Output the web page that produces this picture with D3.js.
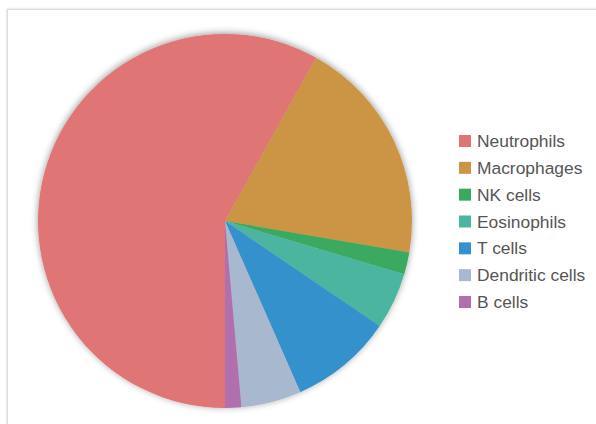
<!DOCTYPE html>
<html>
<head>
<meta charset="utf-8">
<script src="https://cdn.jsdelivr.net/npm/d3@7"></script>
<style>
  body { margin: 0; background: #fff; }
  svg { display: block; }
</style>
</head>
<body>
<div id="canvas"></div>
<script>
// cell populations (% of total)
const cells = ["Neutrophils", "Macrophages", "NK cells", "Eosinophils", "T cells", "Dendritic cells", "B cells"];
const shares = [58.1, 19.6, 1.9, 4.9, 8.9, 5.2, 1.4];
const colors = ["#e07476", "#cc9544", "#3aa95e", "#4cb59f", "#3591cc", "#a8b8cf", "#b170ad"];

const width = 596;
const height = 424;

const svg = d3.select("#canvas").append("svg")
    .attr("width", width)
    .attr("height", height);

const defs = svg.append("defs");
const sh = defs.append("filter").attr("id", "shadow")
    .attr("x", "-10%").attr("y", "-10%").attr("width", "120%").attr("height", "120%");
sh.append("feDropShadow")
    .attr("dx", 0).attr("dy", -1)
    .attr("stdDeviation", 3.5)
    .attr("flood-color", "#000")
    .attr("flood-opacity", 0.4);

const pshadow = defs.append("filter").attr("id", "panelShadow")
    .attr("x", "-5%").attr("y", "-5%").attr("width", "110%").attr("height", "110%");
pshadow.append("feDropShadow")
    .attr("dx", 0).attr("dy", 0)
    .attr("stdDeviation", 1.2)
    .attr("flood-color", "#000")
    .attr("flood-opacity", 0.2);

// panel
svg.append("rect")
    .attr("x", 7.5).attr("y", 9.5)
    .attr("width", 700).attr("height", 500)
    .attr("fill", "#fff")
    .attr("stroke", "#dcdcdc")
    .attr("filter", "url(#panelShadow)");

const cx = 225, cy = 221, r = 187;

const pie = d3.pie()
    .sort(null)
    .value(d => d)
    .startAngle(Math.PI)
    .endAngle(3 * Math.PI);

const arc = d3.arc().innerRadius(0).outerRadius(r);

const g = svg.append("g")
    .attr("transform", `translate(${cx},${cy})`)
    .attr("filter", "url(#shadow)");

g.selectAll("path")
    .data(pie(shares))
    .enter().append("path")
    .attr("d", arc)
    .attr("fill", (d, i) => colors[i]);

// legend
const color = d3.scaleOrdinal().domain(cells).range(colors);
const row = d3.scalePoint().domain(cells).range([141, 302]);

const legend = svg.append("g");
const items = legend.selectAll("g")
    .data(cells)
    .enter().append("g")
    .attr("transform", d => `translate(459,${row(d)})`);

items.append("rect")
    .attr("x", 0).attr("y", -6)
    .attr("width", 12).attr("height", 12)
    .attr("fill", d => color(d));

items.append("text")
    .attr("x", 18)
    .attr("y", 0)
    .attr("dy", "0.35em")
    .attr("font-family", "Liberation Sans, Arial, sans-serif")
    .attr("font-size", 17.4)
    .attr("fill", "#555")
    .text(d => d);
</script>
</body>
</html>
